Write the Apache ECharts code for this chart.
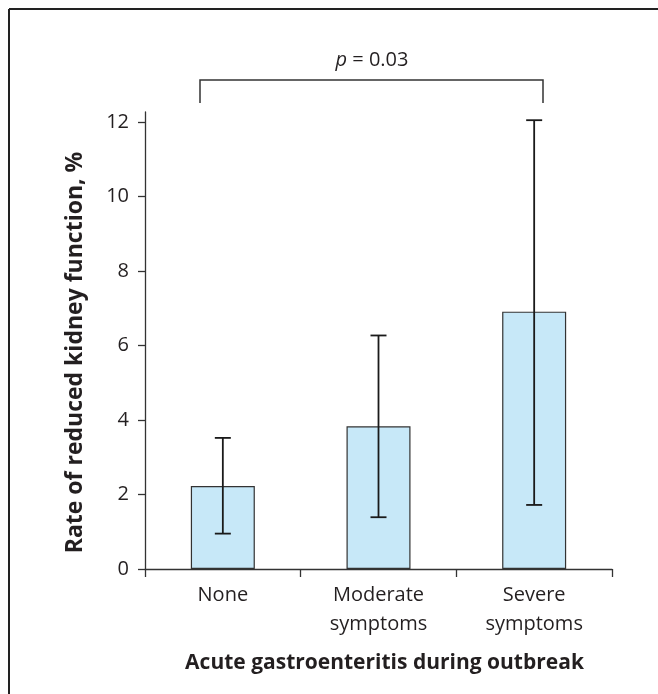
<!DOCTYPE html>
<html>
<head>
<meta charset="utf-8">
<script src="https://cdn.jsdelivr.net/npm/echarts@6/dist/echarts.min.js"></script>
<style>
html,body{margin:0;padding:0;background:#fff;}
#c{width:658px;height:694px;}
</style>
</head>
<body>
<div id="c"></div>
<script>
const categories = ['None', 'Moderate\nsymptoms', 'Severe\nsymptoms'];
const rates = [2.23, 3.83, 6.91];
const errLow = [0.95, 1.39, 1.72];
const errHigh = [3.52, 6.27, 12.05];
const yTicks = [0, 2, 4, 6, 8, 10, 12];
const pLabel = '0.03';

const FONT = '"Open Sans", sans-serif';
const TXT = '#231f20';
const chart = echarts.init(document.getElementById('c'), null, {renderer: 'canvas'});

const errData = categories.map((c, i) => [i, errLow[i], errHigh[i]]);

chart.setOption({
  animation: false,
  backgroundColor: '#fff',
  grid: {left: 145, right: 46, top: 112, bottom: 125, containLabel: false},
  xAxis: {
    type: 'category',
    data: categories,
    boundaryGap: true,
    name: 'Acute gastroenteritis during outbreak',
    nameLocation: 'middle',
    nameGap: 84,
    nameTextStyle: {fontFamily: FONT, fontSize: 21, fontWeight: 'bold', color: TXT, verticalAlign: 'top', padding: [0, 0, 0, 12]},
    axisLine: {lineStyle: {color: '#333', width: 1.3}},
    axisTick: {show: true, alignWithLabel: false, inside: false, length: 8, lineStyle: {color: '#333', width: 1.3}},
    axisLabel: {fontFamily: FONT, fontSize: 20, color: TXT, margin: 12, lineHeight: 29},
    splitLine: {show: false}
  },
  yAxis: {
    type: 'value',
    min: 0,
    max: 12.27,
    interval: 2,
    name: 'Rate of reduced kidney function, %',
    nameLocation: 'middle',
    nameGap: 58,
    nameTextStyle: {fontFamily: FONT, fontSize: 23, fontWeight: 'bold', color: TXT, padding: [0, 24, 0, 0]},
    axisLine: {show: true, lineStyle: {color: '#333', width: 1.3}},
    axisTick: {show: true, length: 7, customValues: yTicks, lineStyle: {color: '#333', width: 1.3}},
    axisLabel: {fontFamily: FONT, fontSize: 20, color: TXT, margin: 16, customValues: yTicks},
    splitLine: {show: false}
  },
  series: [
    {
      type: 'bar',
      data: rates,
      barWidth: 64,
      itemStyle: {color: '#c7e8f8', borderColor: '#333', borderWidth: 1.2},
      z: 2
    },
    {
      type: 'custom',
      data: errData,
      z: 3,
      renderItem: function (params, api) {
        const x = api.value(0);
        const lo = api.coord([x, api.value(1)]);
        const hi = api.coord([x, api.value(2)]);
        const hw = 8;
        const st = {stroke: '#1a1a1a', lineWidth: 1.8};
        return {
          type: 'group',
          children: [
            {type: 'line', shape: {x1: lo[0], y1: lo[1], x2: hi[0], y2: hi[1]}, style: st},
            {type: 'line', shape: {x1: lo[0] - hw, y1: lo[1], x2: lo[0] + hw, y2: lo[1]}, style: st},
            {type: 'line', shape: {x1: hi[0] - hw, y1: hi[1], x2: hi[0] + hw, y2: hi[1]}, style: st}
          ]
        };
      }
    }
  ],
  graphic: [
    {type: 'line', shape: {x1: 9, y1: 9, x2: 658, y2: 9}, style: {stroke: '#222', lineWidth: 2}},
    {type: 'line', shape: {x1: 9, y1: 9, x2: 9, y2: 694}, style: {stroke: '#222', lineWidth: 2}},
    {type: 'polyline', shape: {points: [[200, 103], [200, 80], [543, 80], [543, 103]]}, style: {stroke: '#333', lineWidth: 1.5, fill: null}},
    {
      type: 'text', x: 372, y: 60,
      style: {
        text: '{i|p} = ' + pLabel,
        rich: {i: {fontStyle: 'italic', fontFamily: FONT, fontSize: 20, fill: TXT}},
        fontFamily: FONT, fontSize: 20, fill: TXT,
        align: 'center', verticalAlign: 'middle'
      }
    }
  ]
});
</script>
</body>
</html>
